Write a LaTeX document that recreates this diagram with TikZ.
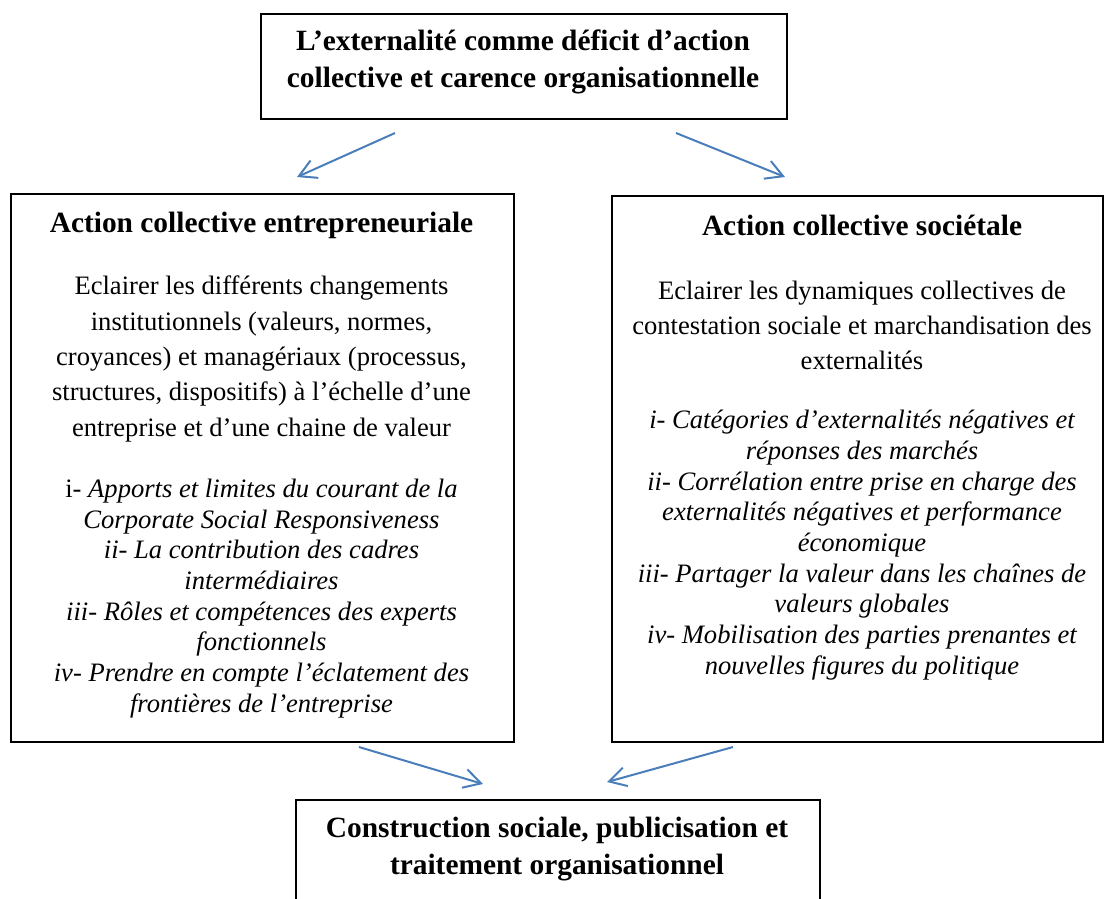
\documentclass[tikz,border=0pt]{standalone}
\usepackage{fontspec}
\setmainfont{Liberation Serif}
\usetikzlibrary{arrows.meta}
\definecolor{arrowblue}{HTML}{4A7EBB}
\begin{document}
\begin{tikzpicture}[x=1pt,y=-1pt,
  box/.style={draw=black, line width=2.2pt, rectangle, anchor=north west, inner sep=0pt},
  titletext/.style={font=\fontsize{29.4pt}{37pt}\selectfont\bfseries, align=center, inner sep=0pt},
  bodytext/.style={font=\fontsize{26.6pt}{35.3pt}\selectfont, align=center, inner sep=0pt},
  listtext/.style={font=\fontsize{26.6pt}{30.7pt}\selectfont\itshape, align=center, inner sep=0pt},
  flow/.style={draw=arrowblue, line width=2pt, -{Straight Barb[length=17pt,width=19pt]}}]
\clip (0,0) rectangle (1105,898);
\fill[white] (0,0) rectangle (1105,898);
% boxes
\node[box, minimum width=526pt, minimum height=105pt] (topbox) at (260,13) {};
\node[box, minimum width=503pt, minimum height=548pt] (leftbox) at (10,193) {};
\node[box, minimum width=491pt, minimum height=546pt] (rightbox) at (611,195) {};
\node[box, minimum width=524pt, minimum height=140pt] (bottombox) at (295,799) {};
% texts
\node[titletext] (toptext) at (523,62) {L’externalité comme déficit d’action\\collective et carence organisationnelle};
\node[titletext] (lefttitle) at (261.5,225) {Action collective entrepreneuriale};
\node[bodytext] (leftbody) at (261.5,359) {Eclairer les différents changements\\institutionnels (valeurs, normes,\\croyances) et managériaux (processus,\\structures, dispositifs) à l’échelle d’une\\entreprise et d’une chaine de valeur};
\node[listtext] (leftlist) at (261.5,598.5) {{\upshape i-} Apports et limites du courant de la\\Corporate Social Responsiveness\\ii- La contribution des cadres\\intermédiaires\\iii- Rôles et compétences des experts\\fonctionnels\\iv- Prendre en compte l’éclatement des\\frontières de l’entreprise};
\node[titletext] (righttitle) at (862,225) {Action collective sociétale};
\node[bodytext] (rightbody) at (862,325.5) {Eclairer les dynamiques collectives de\\contestation sociale et marchandisation des\\externalités};
\node[listtext] (rightlist) at (862,545) {i- Catégories d’externalités négatives et\\réponses des marchés\\ii- Corrélation entre prise en charge des\\externalités négatives et performance\\économique\\iii- Partager la valeur dans les chaînes de\\valeurs globales\\iv- Mobilisation des parties prenantes et\\nouvelles figures du politique};
\node[titletext] (bottomtext) at (557,849.5) {Construction sociale, publicisation et\\traitement organisationnel};
% arrow end points
\coordinate (a1s) at (395,133); \coordinate (a1e) at (297,177);
\coordinate (a2s) at (676,133); \coordinate (a2e) at (785,177);
\coordinate (a3s) at (359,747); \coordinate (a3e) at (483,784);
\coordinate (a4s) at (733,747); \coordinate (a4e) at (607,782);
\draw[flow] (a1s) -- (a1e);
\draw[flow] (a2s) -- (a2e);
\draw[flow] (a3s) -- (a3e);
\draw[flow] (a4s) -- (a4e);
\end{tikzpicture}
\end{document}
